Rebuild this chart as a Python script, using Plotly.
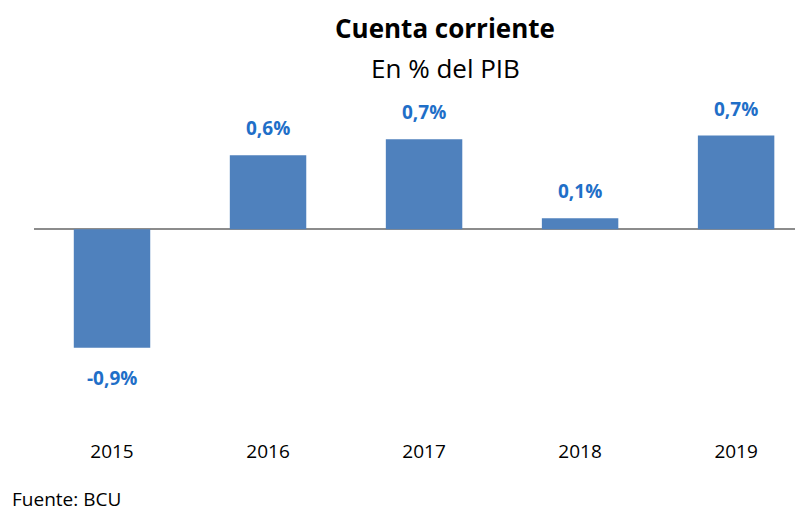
import plotly.graph_objects as go

years = ["2015", "2016", "2017", "2018", "2019"]
values = [-0.96, 0.60, 0.73, 0.09, 0.76]
labels = ["-0,9%", "0,6%", "0,7%", "0,1%", "0,7%"]

FONT = "Open Sans, Calibri, Arial, sans-serif"
BAR = "#4f81bd"
LBL = "#1f6fc8"

fig = go.Figure(go.Bar(x=years, y=values, marker=dict(color=BAR, line=dict(width=0)),
                       width=0.49, hoverinfo="skip"))

for i, (v, t) in enumerate(zip(values, labels)):
    fig.add_annotation(x=i, y=v, text="<b>%s</b>" % t, showarrow=False,
                       yanchor="middle", yshift=27 if v >= 0 else -30,
                       font=dict(family=FONT, size=19, color=LBL))

fig.add_annotation(xref="paper", yref="paper", x=0.529, y=1, yanchor="middle", yshift=78,
                   text="<b>Cuenta corriente</b>", showarrow=False,
                   font=dict(family=FONT, size=26, color="#000000"))
fig.add_annotation(xref="paper", yref="paper", x=0.529, y=1, yanchor="middle", yshift=38,
                   text="En % del PIB", showarrow=False,
                   font=dict(family=FONT, size=26, color="#000000"))
fig.add_annotation(xref="paper", yref="paper", x=-0.031, xanchor="left", y=0,
                   yanchor="middle", yshift=-97,
                   text="Fuente: BCU", showarrow=False,
                   font=dict(family=FONT, size=19, color="#000000"))

fig.update_layout(
    width=803, height=513,
    margin=dict(l=26, r=0, t=98, b=119, autoexpand=False),
    paper_bgcolor="white", plot_bgcolor="white",
    showlegend=False,
    xaxis=dict(type="category", range=[-0.5, 4.48], showline=False, showgrid=False, ticks="",
               automargin=False, ticklabelstandoff=36,
               tickfont=dict(family=FONT, size=19, color="#000000")),
    yaxis=dict(range=[-1.4, 1.0], showgrid=False, showticklabels=False, automargin=False,
               zeroline=True, zerolinecolor="#8c8c8c", zerolinewidth=2),
)

fig.write_html("out.html")
